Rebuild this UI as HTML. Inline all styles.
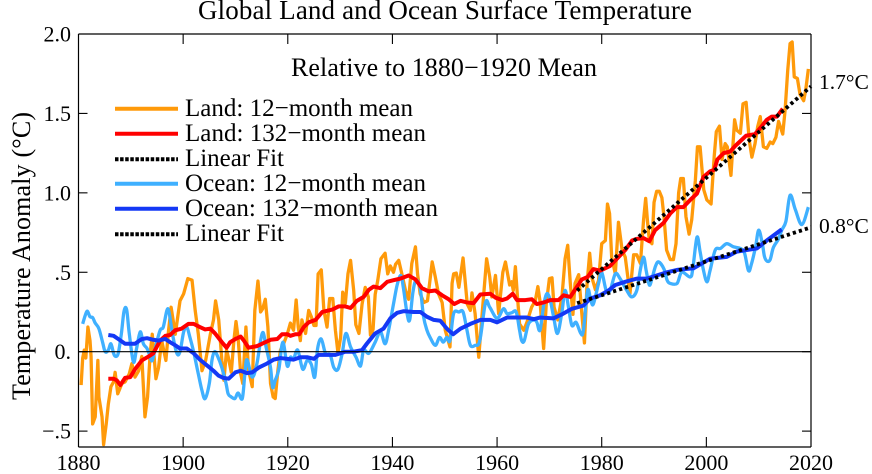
<!DOCTYPE html>
<html>
<head>
<meta charset="utf-8">
<style>
html,body{margin:0;padding:0;background:#fff;}
svg{display:block;}
text{font-family:"Liberation Serif",serif;fill:#000;}
</style>
</head>
<body>
<svg id="chart" width="872" height="474" viewBox="0 0 872 474" xmlns="http://www.w3.org/2000/svg">
  <text x="198" y="19" font-size="27" textLength="494">Global Land and Ocean Surface Temperature</text>
  <text x="291" y="76" font-size="26" textLength="306">Relative to 1880−1920 Mean</text>
  <text transform="translate(30,400) rotate(-90)" font-size="26" textLength="288">Temperature Anomaly (°C)</text>
  <g id="marks"></g>
  <g id="axes"></g>
  <g>
    <line x1="115" x2="178" y1="108.7" y2="108.7" stroke="#ff9a0a" stroke-width="4"/>
    <text x="185" y="116" font-size="25" textLength="228">Land: 12−month mean</text>
    <line x1="115" x2="178" y1="133.7" y2="133.7" stroke="#ff0000" stroke-width="4"/>
    <text x="185" y="141" font-size="25" textLength="241">Land: 132−month mean</text>
    <line x1="115" x2="178" y1="159.3" y2="159.3" stroke="#000" stroke-width="4" stroke-dasharray="3.5 1.6"/>
    <text x="185" y="166" font-size="25" textLength="99">Linear Fit</text>
    <line x1="115" x2="178" y1="183.7" y2="183.7" stroke="#3fb0ff" stroke-width="4"/>
    <text x="185" y="191" font-size="25" textLength="241">Ocean: 12−month mean</text>
    <line x1="115" x2="178" y1="208.7" y2="208.7" stroke="#1438f5" stroke-width="4"/>
    <text x="185" y="216" font-size="25" textLength="253">Ocean: 132−month mean</text>
    <line x1="115" x2="178" y1="234.3" y2="234.3" stroke="#000" stroke-width="4" stroke-dasharray="3.5 1.6"/>
    <text x="185" y="241" font-size="25" textLength="99">Linear Fit</text>
  </g>
  <text x="819" y="89" font-size="21.5">1.7°C</text>
  <text x="819" y="233" font-size="21.5">0.8°C</text>
</svg>
<script>
const xTickYears = [1880, 1900, 1920, 1940, 1960, 1980, 2000, 2020];
const yTickValues = [-0.5, 0, 0.5, 1, 1.5, 2];
const yTickLabels = ["−.5", "0.", ".5", "1.0", "1.5", "2.0"];

const land12Years = [
1880.5,1880.8,1881.1,1881.4,1881.8,1882.2,1882.4,1882.7,1883.2,1883.7,
1883.9,1884.5,1884.8,1885.3,1885.7,1886.2,1886.7,1887,1887.5,1888.3,
1888.9,1889.7,1890.2,1890.8,1891.5,1892.1,1892.7,1893.2,1893.7,1894.1,
1894.8,1895.3,1895.9,1896.7,1897.2,1897.7,1898.5,1899.4,1900.1,1900.9,
1901.7,1902.3,1902.9,1903.6,1904.3,1905.2,1905.8,1906.2,1906.8,1907.4,
1907.8,1908.3,1908.6,1909.2,1909.7,1910.1,1910.5,1911,1911.4,1912,
1912.5,1913.2,1913.7,1914.3,1914.8,1915.2,1915.7,1916.2,1916.7,1917.2,
1917.6,1918.1,1918.6,1919.2,1919.9,1920.5,1921.1,1921.6,1922,1922.4,
1922.7,1923.4,1924,1924.5,1925,1925.4,1925.8,1926.4,1926.9,1927.5,
1928,1928.6,1929.1,1929.6,1930.1,1930.5,1931,1931.5,1932,1932.6,
1933,1933.6,1934.2,1934.8,1935.4,1935.8,1936.3,1936.7,1937.2,1937.8,
1938.6,1939.1,1939.6,1940.2,1940.6,1941.2,1941.8,1942.5,1943.1,1943.7,
1944.4,1944.8,1945.3,1946,1946.7,1947.6,1948.2,1948.8,1949.5,1950.1,
1951,1951.4,1951.7,1952.2,1952.7,1953.5,1954.3,1954.9,1955.2,1955.8,
1956.5,1957.1,1958,1958.6,1959,1959.7,1960.3,1961.1,1961.6,1962.4,
1962.8,1963.1,1963.5,1963.9,1964.3,1965.1,1965.7,1966.6,1967.3,1967.8,
1968.2,1968.9,1969.4,1970,1970.5,1970.9,1971.6,1972.4,1973,1973.5,
1974,1974.5,1974.9,1975.6,1976.2,1976.7,1977.2,1977.7,1978.1,1978.8,
1979.4,1980,1980.7,1981.1,1981.5,1981.9,1982.6,1983.2,1983.9,1984.5,
1985.4,1986.1,1986.7,1987.4,1988,1988.4,1988.75,1989.1,1989.6,1990,
1990.5,1991,1991.5,1991.9,1992.4,1993.1,1993.7,1994.2,1994.7,1995.1,
1995.6,1996.1,1996.7,1997.2,1997.9,1998.3,1998.8,1999.5,2000.1,2000.9,
2001.5,2001.9,2002.5,2003,2003.6,2004,2004.7,2005.4,2005.8,2006.5,
2007,2007.6,2008.2,2008.7,2009.3,2009.8,2010.3,2010.9,2011.55,2012.2,
2012.7,2013.3,2013.8,2014.6,2015.05,2015.55,2016,2016.4,2016.8,2017.4,
2017.9,2018.6,2019,2019.5];
const land12Values = [
-.21,-.04,.01,-.04,.155,.07,-.03,-.455,-.41,-.055,
-.285,-.41,-.585,-.455,-.33,-.22,-.19,-.13,-.265,-.2,
-.19,-.14,-.075,-.16,-.12,-.03,-.41,-.285,-.01,.11,
-.17,-.1,.07,-.055,.13,.28,.11,.32,.365,.46,
.45,.26,.11,-.12,-.055,.11,.2,.32,.2,-.055,
-.18,.01,-.03,-.13,.07,.19,.09,-.14,-.2,.155,
-.115,-.22,.26,.445,.25,.27,.33,.155,-.2,-.285,
-.295,-.12,.01,.05,.11,.18,.135,.325,.155,.07,
.2,.115,.26,.22,.165,.165,.49,.515,.26,.155,
.335,.335,.135,-.01,.09,.375,.305,.49,.575,.385,
.17,.115,.3,.405,.345,.105,.14,.36,.45,.585,
.62,.49,.54,.5,.55,.575,.49,.385,.33,.555,
.66,.49,.365,.31,.32,.565,.47,.365,.31,.135,
.03,.43,.49,.495,.405,.59,.3,.26,.37,.24,
-.035,.22,.585,.47,.345,.48,.24,.5,.565,.42,
.44,.385,.535,.345,.175,.135,.185,.28,.32,.41,
.32,.02,.3,.46,.465,.28,.2,.345,.585,.67,
.43,.235,.43,.485,.24,.055,.43,.62,.47,.39,
.45,.68,.7,.93,.87,.595,.49,.815,.64,.595,
.365,.61,.61,.555,.83,.965,.82,.7,.68,.94,
1.01,1.01,.97,.85,.64,.58,.58,.68,1,1.09,
1.09,.85,.74,.83,1.08,1.29,1.29,1.02,.955,.93,
1.23,1.385,1.42,1.21,1.31,1.29,1.11,1.46,1.395,1.375,
1.56,1.57,1.33,1.225,1.31,1.415,1.48,1.29,1.28,1.32,
1.31,1.35,1.45,1.37,1.52,1.77,1.94,1.95,1.73,1.72,
1.62,1.58,1.65,1.78];

const land132Years = [
1885.7,1886.7,1887.3,1888,1888.9,1889.9,1890.8,1892.1,1893.4,1894.3,
1895.6,1896.6,1897.5,1898.5,1899.7,1901,1902,1903.2,1904.2,1905.2,
1906.1,1907.4,1908.3,1909,1910,1911,1911.6,1912.5,1914.1,1915.4,
1916.7,1918,1918.9,1919.9,1920.5,1921.5,1922.2,1923.05,1924,1925.3,
1926.6,1928.5,1929.7,1931,1932,1933.2,1934.5,1935.5,1936.4,1937.7,
1939,1940.2,1941.5,1943.1,1944.4,1945.65,1946.9,1948.2,1949.5,1950.75,
1951.8,1953,1954.25,1955.5,1956.8,1958.7,1959.7,1961,1961.9,1963,
1963.8,1965.4,1966.65,1967.6,1968.9,1970.15,1971.75,1972.7,1974,1974.9,
1976.2,1977.3,1978.4,1979.7,1981.6,1982.9,1984.5,1985.8,1986.7,1988,
1989.1,1990.2,1991.8,1993.1,1994.35,1995.6,1996.9,1998.2,1999.45,2000.7,
2001.5,2002.1,2003.3,2004.55,2005.5,2006.8,2007.6,2009.3,2010.6,2011.55,
2012.5,2013.5,2014.6];
const land132Values = [
-.17,-.17,-.18,-.21,-.165,-.16,-.11,-.055,-.03,-.01,
.07,.1,.105,.135,.145,.175,.175,.155,.14,.145,
.115,.06,.025,.06,.08,.095,.07,.025,.035,.055,
.075,.08,.11,.11,.1,.11,.11,.155,.185,.2,
.25,.265,.285,.285,.275,.32,.345,.39,.41,.4,
.44,.45,.46,.48,.455,.4,.38,.385,.355,.33,
.3,.32,.31,.305,.36,.365,.34,.325,.335,.365,
.325,.325,.33,.3,.31,.325,.325,.355,.345,.39,
.455,.47,.52,.51,.54,.585,.64,.7,.71,.715,
.695,.765,.81,.87,.91,.91,.955,.995,1.1,1.135,
1.145,1.21,1.25,1.26,1.295,1.335,1.36,1.37,1.42,1.46,
1.48,1.48,1.53];

const ocean12Years = [
1880.8,1881.3,1881.7,1882.2,1882.7,1883.2,1883.9,1884.6,1885.1,1885.7,
1886.2,1886.7,1887.1,1887.6,1888.2,1888.7,1889.2,1889.7,1890.5,1891.1,
1891.8,1892.4,1893.1,1893.7,1894.1,1894.8,1895.6,1896.2,1896.9,1897.3,
1898,1898.8,1899.4,1900.1,1900.7,1901.3,1902,1902.9,1903.6,1904.2,
1905,1905.5,1906,1906.6,1907.4,1908.2,1908.6,1909.2,1909.9,1910.5,
1911.3,1911.8,1912.2,1913.2,1914.1,1914.8,1915.3,1915.85,1916.7,1917.1,
1917.6,1918.3,1919.05,1919.9,1920.5,1921.1,1921.9,1922.85,1923.7,1924.5,
1925.15,1925.7,1926.4,1927.2,1928.1,1928.8,1929.6,1930.4,1931.1,1932,
1933.05,1933.9,1934.5,1935.5,1936.7,1937.7,1938.6,1939.3,1940.2,1940.9,
1941.6,1942.1,1942.8,1943.3,1943.9,1944.5,1945.3,1945.95,1946.6,1947.2,
1948.2,1949,1949.7,1950.4,1951,1951.7,1952.7,1953.5,1954.25,1954.9,
1955.8,1956.7,1957.8,1958.6,1960,1961.2,1961.9,1962.8,1963.65,1964.3,
1964.7,1965.2,1966,1967,1967.6,1968.2,1968.9,1969.5,1970.15,1970.8,
1971.55,1972.4,1973,1973.65,1974.3,1975.1,1976,1976.5,1977.3,1977.9,
1978.4,1979.4,1980,1980.85,1981.6,1982.6,1983.5,1984.8,1985.75,1986.7,
1987.35,1988,1988.5,1989.1,1989.6,1990.3,1990.9,1991.9,1992.5,1993.1,
1994.4,1995.3,1996.9,1997.4,1998.2,1998.8,1999.4,2000.1,2000.7,2001.7,
2002.7,2003.9,2005.2,2006.5,2007.3,2008.05,2008.6,2009.4,2010,2010.7,
2011.1,2011.6,2012.2,2012.8,2013.8,2014.4,2015.2,2016,2017,2018.25,
2019.5];
const ocean12Values = [
.175,.23,.255,.22,.215,.18,.145,.06,0,.01,
.05,-.01,-.03,-.01,.115,.255,.265,.115,-.065,.02,
.125,.05,.02,-.03,-.055,.04,.135,.155,.26,.25,
.105,-.01,0,.125,.155,.09,0,-.14,-.245,-.295,
-.2,-.055,0,-.03,-.1,-.2,-.265,-.285,-.295,-.26,
-.295,-.14,-.05,-.16,-.075,.07,.12,.03,-.1,-.225,
-.18,-.11,.06,-.09,-.035,-.045,.01,-.11,-.055,-.08,
-.16,.02,.08,-.01,-.02,-.1,-.11,-.01,.115,.03,
-.035,-.09,.01,-.01,.06,.125,.05,.14,.3,.42,
.48,.4,.24,.2,.37,.45,.4,.22,.135,.09,
.04,.09,.06,.09,.07,.24,.25,.25,.135,.04,
.04,.07,.31,.28,.21,.27,.24,.245,.25,.135,
.07,.07,.175,.2,.185,.135,.29,.365,.325,.22,
.115,.25,.385,.28,.165,.185,.115,.135,.385,.325,
.3,.43,.5,.385,.385,.49,.46,.385,.345,.385,
.51,.595,.51,.42,.46,.54,.565,.52,.45,.43,
.43,.5,.47,.52,.72,.63,.52,.44,.51,.64,
.65,.68,.66,.65,.62,.51,.55,.66,.765,.68,
.6,.57,.58,.655,.71,.765,.82,.985,.895,.8,
.91];

const ocean132Years = [
1885.7,1886.7,1887.6,1888.9,1889.9,1890.8,1892.1,1893.1,1894.3,1895.3,
1896.6,1897.5,1898.5,1899.4,1900.7,1902,1903.2,1904.5,1905.8,1906.75,
1907.7,1908.7,1910,1911,1912.2,1913.2,1914.45,1916,1917.3,1918.6,
1919.9,1921.1,1922.4,1923.7,1925,1925.9,1927.2,1929.1,1931,1932.6,
1934.2,1935.1,1936.7,1938.3,1939.6,1940.9,1942.15,1944.05,1945.35,1946.6,
1947.9,1949.15,1950.4,1951.6,1953,1954.9,1956.8,1958.7,1960,1961.9,
1963.8,1965.7,1967,1968.2,1970.8,1972.4,1974.3,1976.5,1977.8,1979.7,
1981.3,1982.6,1984.5,1986.7,1988.6,1992.45,1994.4,1997.55,2000.7,2003.9,
2005.8,2009.65,2011.55,2014.4];
const ocean132Values = [
.105,.1,.08,.05,.05,.05,.08,.085,.075,.07,
.08,.06,.04,.02,.02,-.01,-.05,-.085,-.12,-.15,
-.165,-.17,-.13,-.12,-.135,-.13,-.1,-.075,-.05,-.04,
-.045,-.05,-.035,-.035,-.045,-.02,-.02,-.02,0,0,
.01,.05,.115,.145,.21,.245,.255,.25,.25,.22,
.2,.195,.145,.11,.145,.175,.2,.2,.185,.215,
.215,.215,.205,.215,.21,.235,.27,.29,.335,.355,
.385,.42,.44,.46,.46,.5,.515,.525,.585,.597,
.63,.65,.7,.77];

const landFitYears = [1975.3, 2020];
const landFitValues = [0.385, 1.67];
const oceanFitYears = [1975.3, 2020];
const oceanFitValues = [0.305, 0.783];

const NS = "http://www.w3.org/2000/svg";
const plot = {left: 78.5, right: 811, top: 34, bottom: 447};
const xMin = 1880, xMax = 2020, yMin = -0.6, yMax = 2.0;
function xScale(v){ return plot.left + (v - xMin) * (plot.right - plot.left) / (xMax - xMin); }
function yScale(v){ return plot.bottom - (v - yMin) * (plot.bottom - plot.top) / (yMax - yMin); }

function pathFrom(years, values, smooth){
  const pts = values.map(function(v, i){ return [xScale(years[i]), yScale(v)]; });
  let d = "M" + pts[0][0].toFixed(2) + " " + pts[0][1].toFixed(2);
  for (let i = 1; i < pts.length; i++) {
    if (!smooth) { d += "L" + pts[i][0].toFixed(2) + " " + pts[i][1].toFixed(2); continue; }
    const p0 = pts[Math.max(i - 2, 0)], p1 = pts[i - 1], p2 = pts[i], p3 = pts[Math.min(i + 1, pts.length - 1)];
    const c1x = p1[0] + (p2[0] - p0[0]) / 6, c1y = p1[1] + (p2[1] - p0[1]) / 6;
    const c2x = p2[0] - (p3[0] - p1[0]) / 6, c2y = p2[1] - (p3[1] - p1[1]) / 6;
    d += "C" + c1x.toFixed(2) + " " + c1y.toFixed(2) + " " + c2x.toFixed(2) + " " + c2y.toFixed(2) + " " + p2[0].toFixed(2) + " " + p2[1].toFixed(2);
  }
  return d;
}
function drawSeries(name, years, values, color, width, smooth, dash){
  const el = document.createElementNS(NS, "path");
  
  
  el.setAttribute("d", pathFrom(years, values, smooth));
  el.setAttribute("fill", "none");
  el.setAttribute("stroke", color);
  el.setAttribute("stroke-width", width);
  el.setAttribute("stroke-linejoin", "round");
  if (dash) el.setAttribute("stroke-dasharray", dash);
  document.getElementById("marks").appendChild(el);
}
drawSeries("land-12-month-line", land12Years, land12Values, "#ff9a0a", 3.3, false);
drawSeries("ocean-12-month-line", ocean12Years, ocean12Values, "#3fb0ff", 3.3, true);
drawSeries("land-132-month-line", land132Years, land132Values, "#ff0000", 4, false);
drawSeries("land-linear-fit", landFitYears, landFitValues, "#000", 3.8, false, "3.2 3.1");
drawSeries("ocean-132-month-line", ocean132Years, ocean132Values, "#1438f5", 4, false);
drawSeries("ocean-linear-fit", oceanFitYears, oceanFitValues, "#000", 3.8, false, "3.2 3.1");

const axes = document.getElementById("axes");
function addLine(name, x1, y1, x2, y2, w){
  const el = document.createElementNS(NS, "line");
  
  
  el.setAttribute("x1", x1);
  el.setAttribute("y1", y1);
  el.setAttribute("x2", x2);
  el.setAttribute("y2", y2);
  el.setAttribute("stroke", "#000");
  el.setAttribute("stroke-width", w);
  axes.appendChild(el);
}
addLine("plot-frame-left", plot.left, plot.top, plot.left, plot.bottom, 1.2);
addLine("plot-frame-right", plot.right, plot.top, plot.right, plot.bottom, 1.2);
addLine("plot-frame-top", plot.left, plot.top, plot.right, plot.top, 1.2);
addLine("plot-frame-bottom", plot.left, plot.bottom, plot.right, plot.bottom, 1.2);
addLine("zero-line", plot.left, yScale(0), plot.right, yScale(0), 1.1);
xTickYears.forEach(function(year){
  const x = xScale(year);
  if (year !== xMin && year !== xMax) {
    addLine("x-tick-bottom", x, plot.bottom, x, plot.bottom - 10, 1.1);
    addLine("x-tick-top", x, plot.top, x, plot.top + 10, 1.1);
  }
  const t = document.createElementNS(NS, "text");
  
  
  t.setAttribute("x", x);
  t.setAttribute("y", 470);
  t.setAttribute("font-size", 22);
  t.setAttribute("text-anchor", "middle");
  t.textContent = String(year);
  axes.appendChild(t);
});
yTickValues.forEach(function(value, i){
  const y = yScale(value);
  if (value !== yMax) {
    addLine("y-tick-left", plot.left, y, plot.left + 9, y, 1.1);
    addLine("y-tick-right", plot.right, y, plot.right - 9, y, 1.1);
  }
  const t = document.createElementNS(NS, "text");
  
  
  t.setAttribute("x", 71);
  t.setAttribute("y", y + 7.5);
  t.setAttribute("font-size", 22);
  t.setAttribute("text-anchor", "end");
  t.textContent = yTickLabels[i];
  axes.appendChild(t);
});
</script>
</body>
</html>
